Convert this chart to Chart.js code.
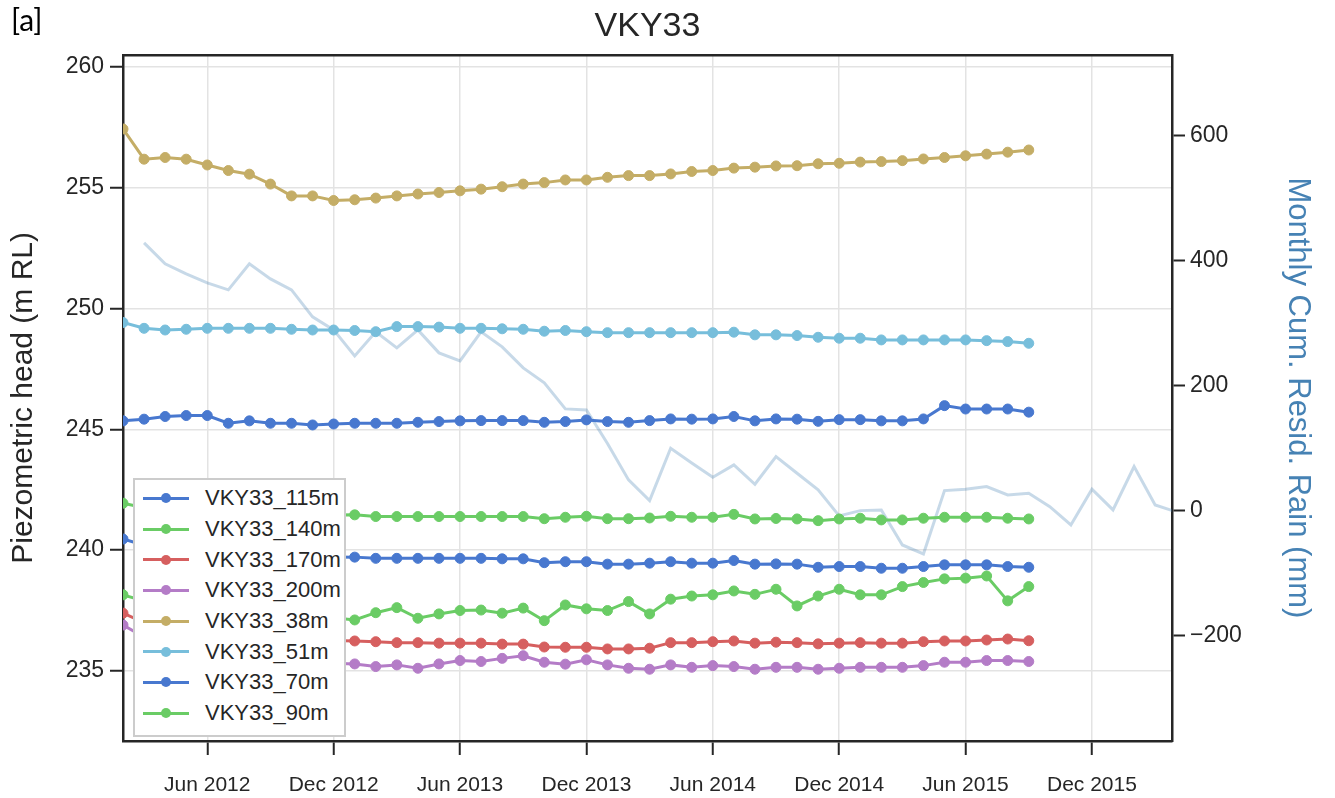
<!DOCTYPE html>
<html>
<head>
<meta charset="utf-8">
<script src="https://cdn.jsdelivr.net/npm/chart.js@4.4.1/dist/chart.umd.min.js"></script>
<style>
  body { margin: 0; background: #fff; }
  #wrap { position: relative; width: 1335px; height: 798px; }
  #tag { position: absolute; left: 11px; top: 1px; font: 30px Lato, "Open Sans", sans-serif; color: #000; }
  #legend { position: absolute; left: 133px; top: 478px; width: 209px; height: 252px; padding-top: 3px;
            border: 2px solid #cccccc; background: #ffffff; }
  .row { height: 30.7px; display: flex; align-items: center; font: 22px "Liberation Sans", Arial, sans-serif; color: #262626; }
  .icon { position: relative; width: 46px; height: 10px; margin-left: 8px; margin-right: 16px; }
  .icon .ln { position: absolute; left: 0; right: 0; top: 3.5px; height: 3px; }
  .icon .dt { position: absolute; left: 18px; top: 0; width: 10px; height: 10px; border-radius: 50%; }
</style>
</head>
<body>
<div id="wrap">
  <canvas id="chart" width="1335" height="798"></canvas>
  <div id="tag">[a]</div>
  <div id="legend"></div>
</div>
<script>
// month index counted from Jan 2012 (0)
var wellStart = 1;   // Feb 2012
var rainStart = 2;   // Mar 2012

var xTickMonths = [5, 11, 17, 23, 29, 35, 41, 47];
var xTickLabels = ['Jun 2012', 'Dec 2012', 'Jun 2013', 'Dec 2013', 'Jun 2014', 'Dec 2014', 'Jun 2015', 'Dec 2015'];
var headTicks = [235, 240, 245, 250, 255, 260];
var rainTicks = [-200, 0, 200, 400, 600];

var wellNames = ['VKY33_115m', 'VKY33_140m', 'VKY33_170m', 'VKY33_200m', 'VKY33_38m', 'VKY33_51m', 'VKY33_70m', 'VKY33_90m'];
var wellColors = ['#4878CF', '#6ACC65', '#D65F5F', '#B47CC7', '#C4AD66', '#77BEDB', '#4878CF', '#6ACC65'];

var head115 = [240.46, 240.20, 240.05, 239.95, 239.88, 239.82, 239.78, 239.75, 239.73, 239.72, 239.72, 239.71,
  239.66, 239.66, 239.66, 239.66, 239.66, 239.66, 239.64, 239.64, 239.48, 239.52, 239.52, 239.42, 239.42, 239.46,
  239.52, 239.46, 239.46, 239.57, 239.42, 239.43, 239.42, 239.29, 239.32, 239.32, 239.25, 239.25, 239.32, 239.39,
  239.39, 239.39, 239.32, 239.29];
var head140 = [238.15, 237.90, 237.70, 237.55, 237.45, 237.30, 237.35, 237.20, 237.25, 237.15, 237.20, 237.11,
  237.41, 237.62, 237.18, 237.36, 237.50, 237.52, 237.39, 237.60, 237.08, 237.73, 237.57, 237.50, 237.87, 237.36,
  237.97, 238.10, 238.15, 238.31, 238.17, 238.38, 237.69, 238.10, 238.38, 238.15, 238.15, 238.49, 238.66, 238.81,
  238.84, 238.93, 237.90, 238.49];
var head170 = [237.39, 237.00, 236.80, 236.65, 236.55, 236.45, 236.40, 236.35, 236.30, 236.28, 236.26, 236.24,
  236.21, 236.17, 236.17, 236.15, 236.15, 236.15, 236.11, 236.11, 235.99, 235.98, 235.98, 235.91, 235.91, 235.94,
  236.17, 236.17, 236.21, 236.24, 236.15, 236.19, 236.17, 236.12, 236.15, 236.17, 236.15, 236.15, 236.21, 236.24,
  236.24, 236.28, 236.32, 236.25];
var head200 = [236.90, 236.40, 236.10, 235.90, 235.75, 235.60, 235.50, 235.45, 235.40, 235.35, 235.32, 235.29,
  235.18, 235.25, 235.11, 235.29, 235.43, 235.39, 235.52, 235.63, 235.36, 235.28, 235.46, 235.25, 235.11, 235.07,
  235.25, 235.15, 235.22, 235.18, 235.07, 235.15, 235.15, 235.07, 235.11, 235.15, 235.15, 235.15, 235.22, 235.36,
  235.36, 235.43, 235.43, 235.39];
var head38 = [257.43, 256.18, 256.25, 256.18, 255.94, 255.71, 255.56, 255.15, 254.66, 254.66, 254.47, 254.50,
  254.57, 254.66, 254.74, 254.80, 254.87, 254.94, 255.04, 255.15, 255.21, 255.32, 255.32, 255.43, 255.50, 255.50,
  255.57, 255.67, 255.71, 255.81, 255.85, 255.90, 255.91, 255.99, 256.01, 256.06, 256.08, 256.12, 256.19, 256.25,
  256.32, 256.39, 256.47, 256.56];
var head51 = [249.42, 249.18, 249.11, 249.14, 249.18, 249.18, 249.18, 249.18, 249.14, 249.11, 249.11, 249.09,
  249.04, 249.25, 249.25, 249.23, 249.18, 249.18, 249.16, 249.14, 249.06, 249.09, 249.04, 249.00, 249.00, 249.00,
  249.00, 249.00, 249.00, 249.02, 248.91, 248.91, 248.88, 248.81, 248.77, 248.77, 248.70, 248.70, 248.70, 248.70,
  248.70, 248.67, 248.63, 248.56];
var head70 = [245.35, 245.42, 245.53, 245.57, 245.57, 245.25, 245.35, 245.25, 245.25, 245.18, 245.22, 245.25,
  245.25, 245.25, 245.29, 245.32, 245.35, 245.36, 245.36, 245.36, 245.29, 245.32, 245.39, 245.32, 245.29, 245.36,
  245.43, 245.42, 245.43, 245.53, 245.35, 245.43, 245.42, 245.33, 245.40, 245.40, 245.35, 245.35, 245.43, 245.98,
  245.84, 245.84, 245.84, 245.71];
var head90 = [241.94, 241.75, 241.62, 241.55, 241.52, 241.50, 241.48, 241.47, 241.46, 241.46, 241.45, 241.46,
  241.39, 241.39, 241.39, 241.39, 241.39, 241.39, 241.39, 241.39, 241.30, 241.36, 241.40, 241.30, 241.30, 241.33,
  241.40, 241.36, 241.36, 241.48, 241.29, 241.31, 241.29, 241.22, 241.29, 241.32, 241.25, 241.25, 241.32, 241.36,
  241.36, 241.36, 241.32, 241.29];

var rainResid = [428.8, 395.2, 379.2, 364.8, 353.6, 395.2, 371.2, 353.6, 310.4, 289.6,
  248.0, 286.4, 260.8, 289.6, 252.8, 240.0, 286.4, 262.4, 228.8, 204.8,
  163.2, 161.6, 108.0, 49.6, 16.5, 100.3, 76.8, 53.9, 73.6, 42.7,
  86.9, 60.3, 33.6, -8.0, 0.5, 1.6, -54.4, -68.8, 32.5, 34.7,
  38.9, 25.6, 28.3, 6.9, -22.4, 34.7, 1.6, 70.9, 9.6, -1.6];

var wellSeries = [head115, head140, head170, head200, head38, head51, head70, head90];

var fontFam = '"Liberation Sans", Arial, sans-serif';
var inkColor = '#262626';

function toPoints(vals, start) {
  return vals.map(function (v, i) { return { x: start + i, y: v }; });
}

var datasets = wellSeries.map(function (vals, i) {
  return {
    label: wellNames[i],
    data: toPoints(vals, wellStart),
    borderColor: wellColors[i],
    backgroundColor: wellColors[i],
    pointBackgroundColor: wellColors[i],
    pointBorderColor: wellColors[i],
    borderWidth: 3,
    pointRadius: 5,
    pointBorderWidth: 1,
    tension: 0,
    order: wellSeries.length - i,
    xAxisID: 'x',
    yAxisID: 'y'
  };
});

datasets.push({
  label: 'rain',
  data: toPoints(rainResid, rainStart),
  borderColor: 'rgba(70, 130, 180, 0.3)',
  borderWidth: 3,
  pointRadius: 0,
  tension: 0,
  order: 20,
  xAxisID: 'x',
  yAxisID: 'y1'
});

var chart = new Chart(document.getElementById('chart'), {
  type: 'line',
  data: { datasets: datasets },
  options: {
    responsive: false,
    animation: false,
    layout: { padding: 0 },
    plugins: {
      legend: { display: false },
      tooltip: { enabled: false },
      title: {
        display: true,
        text: 'VKY33',
        fullSize: false,
        color: inkColor,
        font: { size: 34, family: fontFam, weight: 'normal' },
        padding: { top: 6, bottom: 8 }
      }
    },
    scales: {
      x: {
        type: 'linear',
        position: 'bottom',
        min: 1.0,
        max: 50.8,
        afterBuildTicks: function (ax) { ax.ticks = xTickMonths.map(function (v) { return { value: v }; }); },
        afterFit: function (ax) { ax.height = 57; },
        ticks: {
          autoSkip: false,
          maxRotation: 0,
          padding: 18,
          color: inkColor,
          font: { size: 21, family: fontFam },
          callback: function (v, idx) { return xTickLabels[idx]; }
        },
        grid: { color: '#e3e3e3', lineWidth: 1.5, tickColor: inkColor, tickLength: 14, tickWidth: 2 },
        border: { color: inkColor, width: 2.5 }
      },
      xTop: {
        type: 'linear',
        position: 'top',
        min: 1.0,
        max: 50.8,
        afterFit: function (ax) { ax.height = 0; },
        ticks: { display: false },
        grid: { drawOnChartArea: false, drawTicks: false },
        border: { color: inkColor, width: 2.5 }
      },
      y: {
        type: 'linear',
        position: 'left',
        min: 232.1,
        max: 260.5,
        afterBuildTicks: function (ax) { ax.ticks = headTicks.map(function (v) { return { value: v }; }); },
        afterFit: function (ax) { ax.width = 123; },
        ticks: { padding: 6, color: inkColor, font: { size: 23, family: fontFam } },
        grid: { color: '#e3e3e3', lineWidth: 1.5, tickColor: inkColor, tickLength: 13, tickWidth: 2 },
        border: { color: inkColor, width: 2.5 },
        title: {
          display: true,
          text: 'Piezometric head (m RL)',
          color: inkColor,
          font: { size: 30, family: fontFam },
          padding: { top: 6 }
        }
      },
      y1: {
        type: 'linear',
        position: 'right',
        min: -368,
        max: 729.6,
        afterBuildTicks: function (ax) { ax.ticks = rainTicks.map(function (v) { return { value: v }; }); },
        afterFit: function (ax) { ax.width = 163; },
        ticks: {
          padding: 5,
          color: inkColor,
          font: { size: 23, family: fontFam },
          callback: function (v) { return v < 0 ? '\u2212' + Math.abs(v) : String(v); }
        },
        grid: { drawOnChartArea: false, tickColor: inkColor, tickLength: 13, tickWidth: 2 },
        border: { color: inkColor, width: 2.5 },
        title: {
          display: true,
          text: 'Monthly Cum. Resid. Rain (mm)',
          color: 'steelblue',
          font: { size: 31, family: fontFam },
          padding: { top: 19 }
        }
      }
    }
  }
});

// legend box built from the datasets (matplotlib style, inside the axes)
var legendBox = document.getElementById('legend');
wellNames.forEach(function (name, i) {
  var row = document.createElement('div');
  row.className = 'row';
  row.innerHTML = '<span class="icon"><span class="ln" style="background:' + wellColors[i] + '"></span>' +
    '<span class="dt" style="background:' + wellColors[i] + '"></span></span>' + name;
  legendBox.appendChild(row);
});
</script>
</body>
</html>
